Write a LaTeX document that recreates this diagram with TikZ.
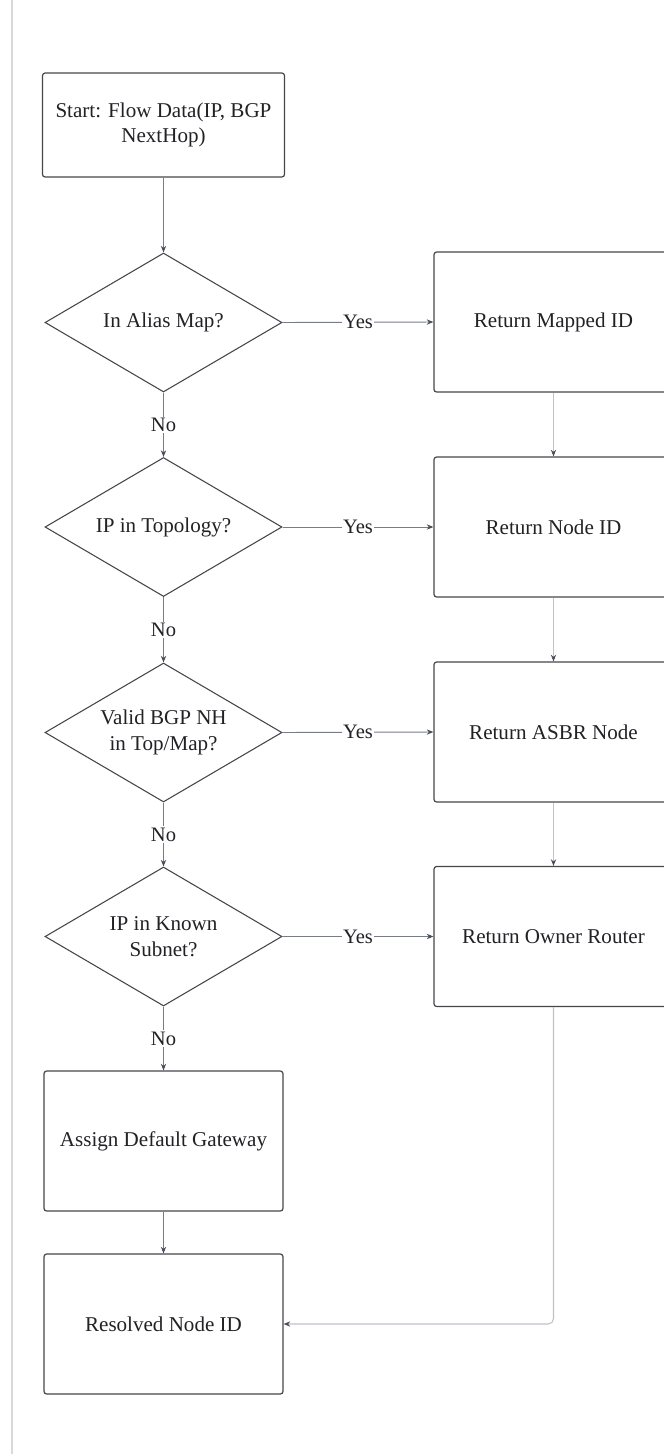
\documentclass[tikz,border=0pt]{standalone}
\usepackage{fontspec}
\setmainfont{Liberation Serif}
\usetikzlibrary{shapes.geometric,arrows.meta}

\definecolor{rand}{RGB}{70,70,74}
\definecolor{schrift}{RGB}{34,34,38}
\definecolor{linie}{RGB}{120,124,134}
\definecolor{hell}{RGB}{192,194,202}
\definecolor{spitze}{RGB}{72,78,92}

\begin{document}
\begin{tikzpicture}[
x=0.75pt, y=-0.75pt,
>={Stealth[length=5pt,width=4pt,color=spitze]},
kasten/.style={rectangle, draw=rand, line width=0.9pt, rounded corners=2pt, minimum width=179.25pt, minimum height=105pt, align=center, text=schrift, font=\fontsize{15.8pt}{19pt}\selectfont},
startkasten/.style={kasten, minimum width=181.5pt, minimum height=78pt},
raute/.style={diamond, draw=rand, line width=0.8pt, shape aspect=1.7, inner sep=0pt, minimum width=177.75pt, minimum height=104.25pt, align=center, text=schrift, font=\fontsize{15.8pt}{19pt}\selectfont},
pfeil/.style={draw=linie, line width=0.7pt, ->},
hellpfeil/.style={draw=hell, line width=0.8pt, ->},
marke/.style={fill=white, inner sep=1pt, text=schrift, font=\fontsize{15.4pt}{18pt}\selectfont},
]
\useasboundingbox (0,0) rectangle (664,1454);
\draw[gray!30, line width=0.8pt] (12,0) -- (12,1454);

\node[startkasten] (start) at (163.5,125) {Start: Flow Data(IP, BGP\\NextHop)};

\node[raute] (alias) at (163.5,322.5) {In Alias Map?};
\node[raute] (topo) at (163.5,527) {IP in Topology?};
\node[raute] (bgp) at (163.5,732.5) {Valid BGP NH\\in Top/Map?};
\node[raute] (subnet) at (163.5,936.5) {IP in Known\\Subnet?};

\node[kasten] (mapped) at (553.5,322) {Return Mapped ID};
\node[kasten] (nodeid) at (553.5,527) {Return Node ID};
\node[kasten] (asbr) at (553.5,732) {Return ASBR Node};
\node[kasten] (owner) at (553.5,936.5) {Return Owner Router};

\node[kasten] (gateway) at (163.5,1141) {Assign Default Gateway};
\node[kasten] (resolved) at (163.5,1324) {Resolved Node ID};

\draw[pfeil] (start) -- (alias);

\draw[pfeil] (alias.east) -- node[marke]{Yes} (mapped.west);
\draw[pfeil] (topo.east) -- node[marke]{Yes} (nodeid.west);
\draw[pfeil] (bgp.east) -- node[marke]{Yes} (asbr.west);
\draw[pfeil] (subnet.east) -- node[marke]{Yes} (owner.west);

\draw[pfeil] (alias.south) -- node[marke]{No} (topo.north);
\draw[pfeil] (topo.south) -- node[marke]{No} (bgp.north);
\draw[pfeil] (bgp.south) -- node[marke]{No} (subnet.north);
\draw[pfeil] (subnet.south) -- node[marke]{No} (gateway.north);

\draw[hellpfeil] (mapped) -- (nodeid);
\draw[hellpfeil] (nodeid) -- (asbr);
\draw[hellpfeil] (asbr) -- (owner);
\draw[hellpfeil, rounded corners=4pt] (owner.south) |- (resolved.east);

\draw[pfeil] (gateway) -- (resolved);

\end{tikzpicture}
\end{document}
